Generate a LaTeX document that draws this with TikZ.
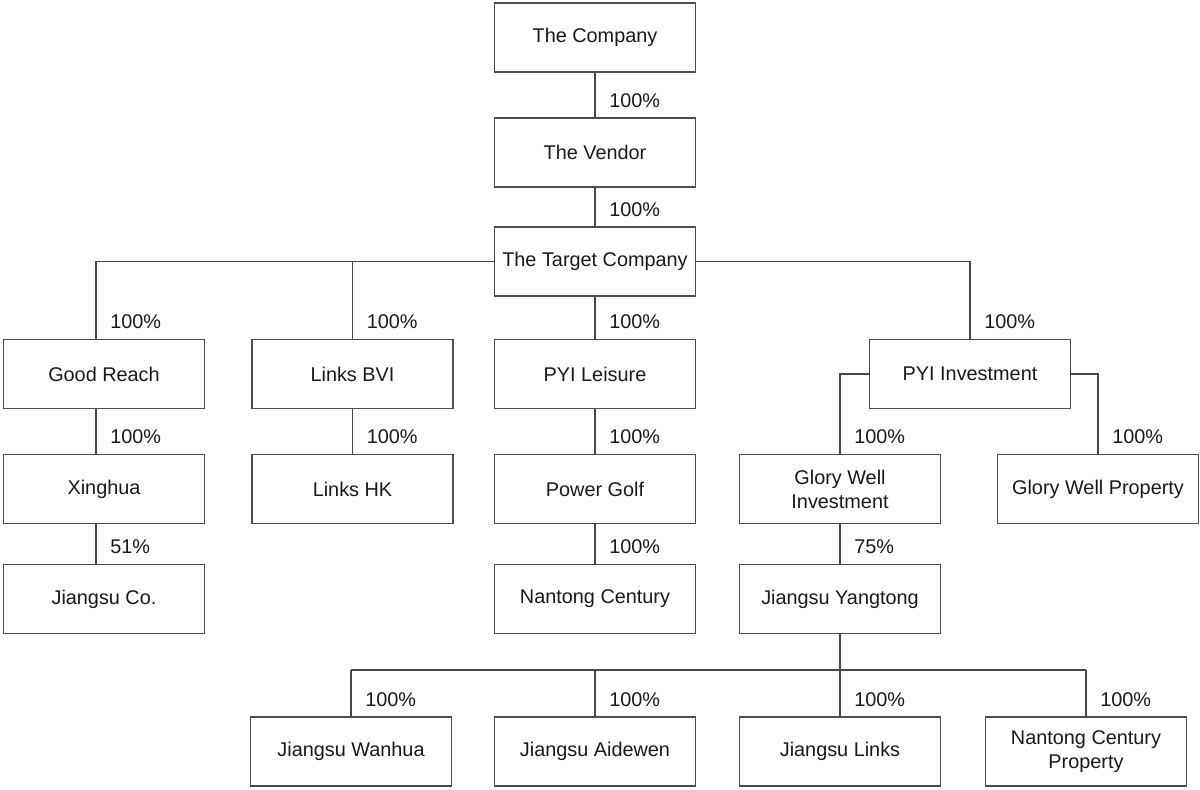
\documentclass[tikz,border=0pt]{standalone}
\usepackage{fontspec}
\setmainfont{Liberation Sans}
\begin{document}
\begin{tikzpicture}[x=0.02cm,y=-0.02cm,
    firm/.style={draw=black!70,line width=0.6pt,minimum width=4.02cm,minimum height=1.38cm,align=center,text=black!90,font=\fontsize{11.3}{13.6}\selectfont},
    link/.style={draw=black!72,line width=0.6pt},
    pct/.style={anchor=base west,inner sep=0pt,text=black!90,font=\fontsize{11.3}{13.6}\selectfont}]
    \useasboundingbox (0,0) rectangle (1200,790);
    % companies
    \foreach \n/\x/\y/\t in {comp/595/37.5/The Company, vend/595/152.5/The Vendor, targ/595/261.5/The Target Company,
            gr/104/374/Good Reach, bvi/352.5/374/Links BVI, leis/595/374/PYI Leisure, pyii/970/374/PYI Investment,
            xing/104/489/Xinghua, lhk/352.5/489/Links HK, golf/595/489/Power Golf, gwi/840/489/{Glory Well\\Investment}, gwp/1098/489/Glory Well Property,
            jco/104/599/Jiangsu Co., ntc/595/599/Nantong Century, jyt/840/599/Jiangsu Yangtong,
            wanh/351/751.5/Jiangsu Wanhua, aidw/595/751.5/Jiangsu Aidewen, jlnk/840/751.5/Jiangsu Links, ntcp/1086/751.5/{Nantong Century\\Property}}
        \node[firm] (\n) at (\x,\y) {\t};
    % straight links
    \foreach \a/\b in {comp/vend,vend/targ,targ/leis,leis/golf,golf/ntc,bvi/lhk,gwi/jyt}
        \draw[link] (\a.south) -- (\b.north);
    % left column sits a little off centre
    \draw[link] (targ.west) -| ([xshift=-0.16cm]gr.north);
    \draw[link] ([xshift=-0.16cm]gr.south) -- ([xshift=-0.16cm]xing.north);
    \draw[link] ([xshift=-0.16cm]xing.south) -- ([xshift=-0.16cm]jco.north);
    % elbow links
    \draw[link] (bvi.north) |- (targ.west);
    \draw[link] (targ.east) -| (pyii.north);
    \draw[link] (pyii.west) -| (gwi.north);
    \draw[link] (pyii.east) -| (gwp.north);
    \coordinate (bus) at (840,670);
    \draw[link] (jyt.south) -- (bus);
    \draw[link] (bus -| wanh.north) -- (bus -| ntcp.north);
    \foreach \n in {wanh,aidw,jlnk,ntcp}
        \draw[link] (bus -| \n.north) -- (\n.north);
    % shares
    \foreach \b/\p in {vend/100,targ/100,bvi/100,leis/100,pyii/100,lhk/100,golf/100,gwi/100,gwp/100,
            ntc/100,jyt/75,wanh/100,aidw/100,jlnk/100,ntcp/100}
        \node[pct] (p\b) at ([shift={(14,-10)}]\b.north) {\p\%};
    \foreach \b/\p in {gr/100,xing/100,jco/51}
        \node[pct] (p\b) at ([shift={(6,-10)}]\b.north) {\p\%};
\end{tikzpicture}
\end{document}
